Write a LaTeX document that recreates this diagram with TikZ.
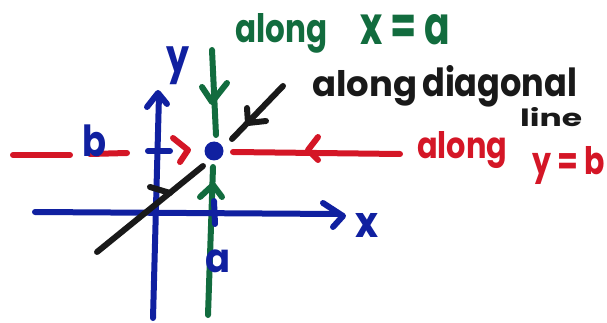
\documentclass[tikz,border=0pt]{standalone}
\usepackage{fontspec}
\usepackage{graphicx}
\newfontfamily\hand{Poppins}
\newcommand\hfit[3]{\resizebox*{#1pt}{#2pt}{#3}}
\newcommand\hbase[3]{\resizebox{#1pt}{#2pt}{#3}}
\definecolor{mblue}{RGB}{16,32,160}
\definecolor{mgreen}{RGB}{18,108,62}
\definecolor{mred}{RGB}{212,22,38}
\definecolor{mblack}{RGB}{25,25,25}
\begin{document}
\begin{tikzpicture}[x=1pt,y=-1pt,
  marker/.style={line width=6pt,line cap=round,line join=round},
  lbl/.style={inner sep=0pt,font=\hand\bfseries},
  wlbl/.style={inner sep=0pt,font=\hand\bfseries,anchor=base west}]
\useasboundingbox (0,0) rectangle (607,323);
% green line x = a
\draw[marker,mgreen] (212,50) -- (216,135);
\draw[marker,mgreen] (202,87) -- (212,102) -- (227,83);
\draw[marker,mgreen] (213,167) -- (208,315);
\draw[marker,mgreen] (200,197) -- (213,185) -- (222,197);
% red line y = b
\draw[marker,mred] (13,155) -- (70,155);
\draw[marker,mred] (90,154) -- (127,153);
\draw[marker,mred] (173,138) -- (188,150) -- (180,162);
\draw[marker,mred] (233,152) -- (400,154);
\draw[marker,mred] (318,137) -- (308,150) -- (318,160);
% blue axes
\draw[marker,mblue] (35,212) -- (338,214);
\draw[marker,mblue] (323,203) -- (343,216) -- (333,227);
\draw[marker,mblue] (153,318) -- (159,95);
\draw[marker,mblue] (147,107) -- (158,93) -- (167,104);
\draw[marker,mblue] (148,151) -- (170,151);
\draw[marker,mblue] (214,201) -- (215,224);
% black diagonal
\draw[marker,mblack] (97,252) -- (203,166);
\draw[marker,mblack] (150,187) -- (170,193);
\draw[marker,mblack] (232,139) -- (283,86);
\draw[marker,mblack] (247,108) -- (248,123) -- (266,121);
% point
\fill[mblue] (214,151) circle (9.5);
% labels
\node[lbl,text=mblue] (ly) at (178.5,66) {\hfit{23}{38}{y}};
\node[lbl,text=mblue] (lx) at (366.5,225) {\hfit{23}{24}{x}};
\node[lbl,text=mblue] (lb) at (95,141) {\hfit{24}{32}{b}};
\node[lbl,text=mblue] (la) at (217.5,261.5) {\hfit{25}{23}{a}};
\node[wlbl,text=mgreen] (g1) at (235,43) {\hbase{92}{29}{along}};
\node[wlbl,text=mgreen] (g2) at (360,45) {\hbase{90}{30}{x = a}};
\node[wlbl,text=mblack] (k1) at (312,97) {\hbase{105}{26}{along}};
\node[wlbl,text=mblack] (k2) at (422,97) {\hbase{155}{31}{diagonal}};
\node[wlbl,text=mblack] (k3) at (520,127) {\hbase{62}{19}{line}};
\node[wlbl,text=mred] (r1) at (417,158) {\hbase{90}{27}{along}};
\node[wlbl,text=mred] (r2) at (532,175) {\hbase{73}{28}{y = b}};
\end{tikzpicture}
\end{document}
